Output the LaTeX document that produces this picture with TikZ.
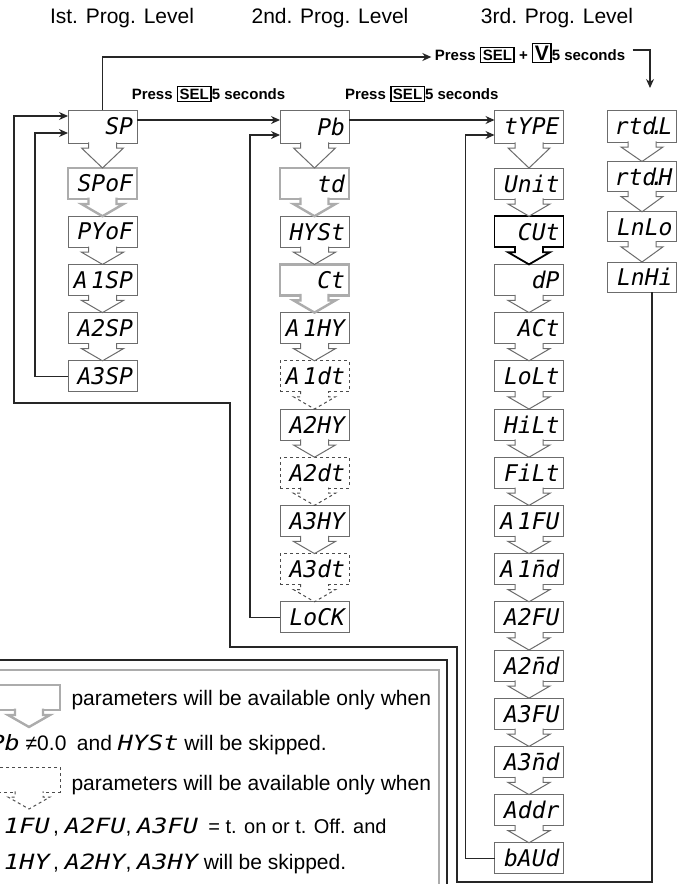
\documentclass[tikz,border=0pt]{standalone}
\usepackage{fontspec}
\setmainfont{Liberation Sans}
\newfontfamily\segfont{DejaVu Sans Mono Oblique}
\newfontfamily\segwide{DejaVu Sans Mono Oblique}[FakeStretch=1.2]
\usepackage{xcolor}
\usepackage{tikz}
\usetikzlibrary{arrows.meta,calc}

\newcommand{\keycap}[1]{{\setlength{\fboxrule}{1.4pt}\setlength{\fboxsep}{1.5pt}\fbox{#1}}}
\newcommand{\nbar}{\rlap{¯}n}
% block arrow from the bottom of a box to a point
\newcommand{\pdown}[3][]{%
 \filldraw[fill=white, draw=gray!85!black, line width=1pt, line join=miter, #1]
  let \p1=(#2.south), \p2=(#3) in
  (\x1-14pt,\y1+0.6\pgflinewidth) -- (\x1-14pt,\y1-5pt) -- (\x1-21pt,\y1-5pt)
  -- (\x2,\y2) -- (\x1+21pt,\y1-5pt) -- (\x1+14pt,\y1-5pt) -- (\x1+14pt,\y1+0.6\pgflinewidth);
}

\tikzset{
 pbox/.style={draw=gray!85!black, line width=1pt, fill=white, minimum width=69pt,
  minimum height=31pt, inner xsep=4pt, inner ysep=0pt, outer sep=0pt,
  text width=61pt, align=right, font=\segfont\fontsize{23}{23}\selectfont},
 pgray/.style={pbox, draw=gray!65, line width=2.4pt},
 pbold/.style={pbox, draw=black, line width=1.8pt},
 pdash/.style={pbox, dashed, draw=gray!60!black},
 garr/.style={draw=gray!65, line width=2.4pt},
 barr/.style={draw=black, line width=1.8pt},
 darr/.style={dashed, draw=gray!60!black},
 flow/.style={->, >={Stealth[length=9pt,width=8pt]}, line width=1.2pt, draw=black!85},
 press/.style={font=\fontsize{15}{17}\selectfont\bfseries},
 head/.style={font=\fontsize{21}{24}\selectfont},
 legend/.style={anchor=west, font=\fontsize{21}{24}\selectfont},
}

\begin{document}
\begin{tikzpicture}[x=1pt,y=1pt]
 \useasboundingbox (0,0) rectangle (679,-884);
 \clip (0,0) rectangle (679,-884);

 \node[head] (H1) at (122,-18) {Ist. Prog. Level};
 \node[head] (H2) at (330,-18) {2nd. Prog. Level};
 \node[head] (H3) at (557,-18) {3rd. Prog. Level};

 % 1st level
 \node[pbox, minimum height=33pt] (SP) at (102.5,-126.5) {SP};
 \node[pgray] (SPOF) at (102.5,-183.5) {SPoF};
 \node[pbox] (PYOF) at (102.5,-231.7) {PYoF};
 \node[pbox] (A1SP) at (102.5,-279.9) {A\,1SP};
 \node[pbox] (A2SP) at (102.5,-328.1) {A2SP};
 \node[pbox] (A3SP) at (102.5,-376.3) {A3SP};

 % 2nd level
 \node[pbox, minimum height=33pt] (PB) at (314.5,-126.5) {Pb};
 \node[pgray] (TD) at (314.5,-183.5) {td};
 \node[pbox] (HYST) at (314.5,-231.7) {HYSt};
 \node[pgray] (CT) at (314.5,-279.9) {Ct};
 \node[pbox] (A1HY) at (314.5,-328.1) {A\,1HY};
 \node[pdash] (A1DT) at (314.5,-376.3) {A\,1dt};
 \node[pbox] (A2HY) at (314.5,-424.5) {A2HY};
 \node[pdash] (A2DT) at (314.5,-472.7) {A2dt};
 \node[pbox] (A3HY) at (314.5,-520.9) {A3HY};
 \node[pdash] (A3DT) at (314.5,-569.1) {A3dt};
 \node[pbox] (LOCK) at (314.5,-617.3) {LoCK};

 % 3rd level
 \node[pbox, minimum height=33pt] (TYPE) at (529,-126.5) {tYPE};
 \node[pbox] (UNIT) at (529,-183.5) {Unit};
 \node[pbold] (CUT) at (529,-231.7) {CUt};
 \node[pbox] (DP) at (529,-279.9) {dP};
 \node[pbox] (ACT) at (529,-328.1) {ACt};
 \node[pbox] (LOLT) at (529,-376.3) {LoLt};
 \node[pbox] (HILT) at (529,-424.5) {HiLt};
 \node[pbox] (FILT) at (529,-472.7) {FiLt};
 \node[pbox] (A1FU) at (529,-520.9) {A\,1FU};
 \node[pbox] (A1ND) at (529,-569.1) {A\,1\nbar d};
 \node[pbox] (A2FU) at (529,-617.3) {A2FU};
 \node[pbox] (A2ND) at (529,-665.5) {A2\nbar d};
 \node[pbox] (A3FU) at (529,-713.7) {A3FU};
 \node[pbox] (A3ND) at (529,-761.9) {A3\nbar d};
 \node[pbox] (ADDR) at (529,-810.1) {Addr};
 \node[pbox] (BAUD) at (529,-858.3) {bAUd};

 \node[pbox, minimum height=32pt] (RTDL) at (642,-126) {rtd\kern-.25em.\kern-.25em L};
 \node[pbox, minimum height=30pt] (RTDH) at (642,-176.5) {rtd\kern-.25em.\kern-.25em H};
 \node[pbox, minimum height=30pt] (LNLO) at (642,-226.8) {LnLo};
 \node[pbox, minimum height=30pt] (LNHI) at (642,-277) {LnHi};

 % steps down each level
 \pdown{SP}{SPOF.north}
 \pdown[garr]{SPOF}{PYOF.north}
 \pdown{PYOF}{A1SP.north}
 \pdown{A1SP}{A2SP.north}
 \pdown{A2SP}{A3SP.north}

 \pdown{PB}{TD.north}
 \pdown[garr]{TD}{HYST.north}
 \pdown{HYST}{CT.north}
 \pdown[garr]{CT}{A1HY.north}
 \pdown{A1HY}{A1DT.north}
 \pdown[darr]{A1DT}{A2HY.north}
 \pdown{A2HY}{A2DT.north}
 \pdown[darr]{A2DT}{A3HY.north}
 \pdown{A3HY}{A3DT.north}
 \pdown[darr]{A3DT}{LOCK.north}

 \pdown{TYPE}{UNIT.north}
 \pdown{UNIT}{CUT.north}
 \pdown[barr]{CUT}{DP.north}
 \pdown{DP}{ACT.north}
 \pdown{ACT}{LOLT.north}
 \pdown{LOLT}{HILT.north}
 \pdown{HILT}{FILT.north}
 \pdown{FILT}{A1FU.north}
 \pdown{A1FU}{A1ND.north}
 \pdown{A1ND}{A2FU.north}
 \pdown{A2FU}{A2ND.north}
 \pdown{A2ND}{A3FU.north}
 \pdown{A3FU}{A3ND.north}
 \pdown{A3ND}{ADDR.north}
 \pdown{ADDR}{BAUD.north}

 \pdown{RTDL}{RTDH.north}
 \pdown{RTDH}{LNLO.north}
 \pdown{LNLO}{LNHI.north}

 % level changes
 \draw[flow] ([yshift=6.5pt]SP.east) -- node[press, above=14pt] (PRESSA) {Press \keycap{SEL}5 seconds} ([yshift=6.5pt]PB.west);
 \draw[flow] ([yshift=6.5pt]PB.east) -- node[press, above=14pt] (PRESSB) {Press \keycap{SEL}5 seconds} ([yshift=6.5pt]TYPE.west);
 \node[press] (PRESSC) at (530,-53) {Press \keycap{SEL} + \keycap{\fontsize{21}{21}\selectfont V}5 seconds};
 \coordinate (T4) at (650,-88);
 \draw[flow] (SP.north) |- ([yshift=-4pt]PRESSC.west);
 \draw[flow, shorten <=4pt] ([yshift=3pt]PRESSC.east) -| (T4);

 % returns
 \draw[flow] (A3SP.west) -- ++(-33,0) |- ([yshift=-6.5pt]SP.west);
 \draw[flow] (LOCK.west) -- ++(-30,0) |- ([yshift=-8.5pt]PB.west);
 \draw[flow] (BAUD.west) -- ++(-29,0) |- ([yshift=-8.5pt]TYPE.west);
 \draw[flow] ([xshift=10pt]LNHI.south) |- (457,-882) |- (230,-647) |- (14,-403) |- ([yshift=10.5pt]SP.west);

 % legend
 \draw[line width=1.8pt, black!85] (-5,-660) -| (447,-890);
 \draw[line width=1.4pt, gray!65] (-5,-670) -| (439,-890);

 \node[pgray, minimum width=62pt, minimum height=25pt, text width=54pt] (LEG1) at (29,-697.5) {};
 \coordinate (LEG1T) at (29,-727);
 \pdown[garr]{LEG1}{LEG1T}
 \node[legend] (T1) at (68,-700) {parameters will be available only when};
 \node[legend] (T2) at (-14,-745) {{\segwide Pb} ≠0.0\enspace and {\segwide HYSt} will be skipped.};

 \node[pdash, minimum width=62pt, minimum height=25pt, text width=54pt] (LEG2) at (29,-779.5) {};
 \coordinate (LEG2T) at (29,-809);
 \pdown[darr]{LEG2}{LEG2T}
 \node[legend] (T3) at (68,-785) {parameters will be available only when};
 \node[legend] (T4L) at (-18,-827) {{\segwide A\,1FU}\,, {\segwide A2FU}, {\segwide A3FU}\enspace{\fontsize{20}{23}\selectfont = t. on or t. Off. and}};
 \node[legend] (T5) at (-18,-864) {{\segwide A\,1HY}\,, {\segwide A2HY}, {\segwide A3HY} will be skipped.};
\end{tikzpicture}
\end{document}
